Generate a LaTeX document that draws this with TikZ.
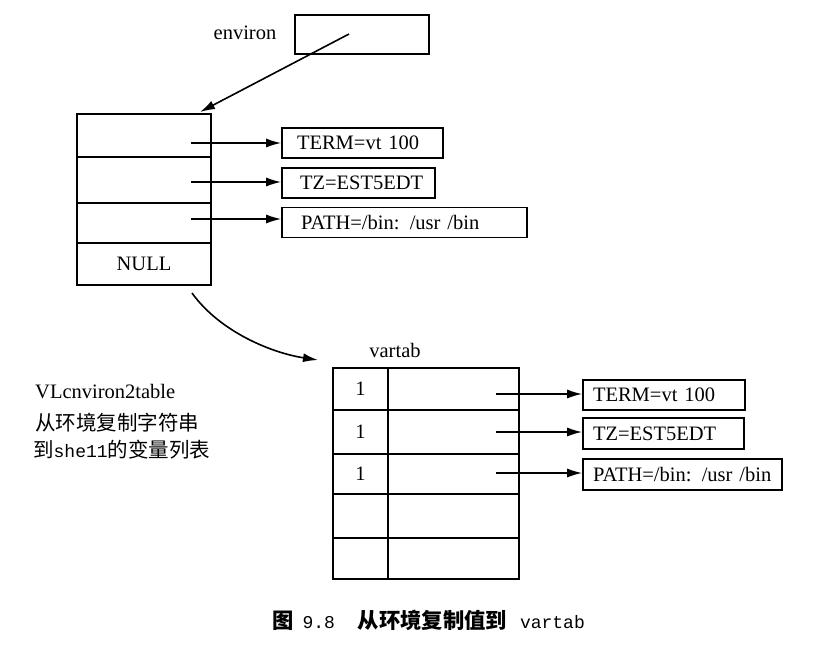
\documentclass[tikz,border=0pt]{standalone}
\usepackage{fontspec}
\setmainfont{Liberation Serif}
\setmonofont{Liberation Mono}
\newfontfamily\cjk{Noto Sans CJK SC}
\usetikzlibrary{arrows.meta}
\begin{document}
\begin{tikzpicture}[x=1pt,y=-1pt,
  font=\fontsize{20.5}{24}\selectfont,
  box/.style={draw, line width=1.6pt, inner sep=0pt},
  valbox/.style={draw, line width=1.6pt, minimum height=30pt, inner ysep=0pt, align=left},
  ptr/.style={line width=1.6pt, -{Latex[length=15pt,width=9pt]}},
  lbl/.style={inner sep=0pt}]
\useasboundingbox (0,0) rectangle (840,645);
% environ
\node[box, minimum width=134pt, minimum height=39pt] (env) at (362,34.5) {};
\node[lbl] (envlbl) at (245,33) {environ};
% left table
\node[box, minimum width=134pt, minimum height=43pt] (r1) at (144,135.5) {};
\node[box, minimum width=134pt, minimum height=46pt] (r2) at (144,180) {};
\node[box, minimum width=134pt, minimum height=40pt] (r3) at (144,223) {};
\node[box, minimum width=134pt, minimum height=42pt] (r4) at (144,264) {NULL};
% left values
\node[valbox, inner xsep=15pt, text width=131pt] (t1) at (362.5,143) {TERM=vt 100};
\node[valbox, inner xsep=18pt, text width=117pt] (z1) at (358.5,183) {TZ=EST5EDT};
\node[valbox, inner xsep=19pt, text width=207pt] (p1) at (404.5,222.5) {PATH=/bin: /usr /bin};
\coordinate (s1) at (191,143);
\coordinate (s2) at (191,182);
\coordinate (s3) at (191,219);
\draw[ptr] (s1) -- (s1 -| t1.west);
\draw[ptr] (s2) -- (s2 -| z1.west);
\draw[ptr] (s3) -- (s3 -| p1.west);
% environ pointer
\coordinate (e0) at (349,34);
\coordinate (e1) at (200,112);
\draw[ptr] (e0) -- (e1);
% curved arrow
\coordinate (c0) at (192,293);
\coordinate (c1) at (318,360);
\draw[ptr] (c0) .. controls (220,332) and (272,353) .. (c1);
% vartab
\node[lbl] (vlbl) at (395,350) {vartab};
\node[box, minimum width=55pt, minimum height=42pt] (v1a) at (360.5,389) {1};
\node[box, minimum width=131pt, minimum height=42pt] (v1b) at (453.5,389) {};
\node[box, minimum width=55pt, minimum height=44pt] (v2a) at (360.5,432) {1};
\node[box, minimum width=131pt, minimum height=44pt] (v2b) at (453.5,432) {};
\node[box, minimum width=55pt, minimum height=40pt] (v3a) at (360.5,474) {1};
\node[box, minimum width=131pt, minimum height=40pt] (v3b) at (453.5,474) {};
\node[box, minimum width=55pt, minimum height=44pt] (v4a) at (360.5,516) {};
\node[box, minimum width=131pt, minimum height=44pt] (v4b) at (453.5,516) {};
\node[box, minimum width=55pt, minimum height=41pt] (v5a) at (360.5,558.5) {};
\node[box, minimum width=131pt, minimum height=41pt] (v5b) at (453.5,558.5) {};
% right values
\node[valbox, inner xsep=10pt, text width=142pt] (t2) at (664,395) {TERM=vt 100};
\node[valbox, inner xsep=10pt, text width=141pt, minimum height=31pt] (z2) at (663.5,433.5) {TZ=EST5EDT};
\node[valbox, inner xsep=10pt, text width=179pt, minimum height=31pt] (p2) at (682.5,474.5) {PATH=/bin: /usr /bin};
\coordinate (s4) at (496,394);
\coordinate (s5) at (496,432);
\coordinate (s6) at (496,473);
\draw[ptr] (s4) -- (s4 -| t2.west);
\draw[ptr] (s5) -- (s5 -| z2.west);
\draw[ptr] (s6) -- (s6 -| p2.west);
% left description
\node[lbl, anchor=west] (fn) at (35,392) {VLcnviron2table};
\node[lbl, anchor=west] (d1) at (35,423) {\cjk 从环境复制字符串};
\node[lbl, anchor=west] (d2) at (33,450) {\cjk 到{\ttfamily\fontsize{18}{20}\selectfont she11}的变量列表};
% caption
\node[lbl, anchor=west] (cap) at (272,620) {{\cjk\bfseries\fontsize{21.3}{24}\selectfont 图}\hspace{9pt}{\ttfamily\fontsize{18}{20}\selectfont 9.8}\hspace{23pt}{\cjk\bfseries\fontsize{21.3}{24}\selectfont 从环境复制值到}\hspace{13pt}{\ttfamily\fontsize{18}{20}\selectfont vartab}};
\end{tikzpicture}
\end{document}
